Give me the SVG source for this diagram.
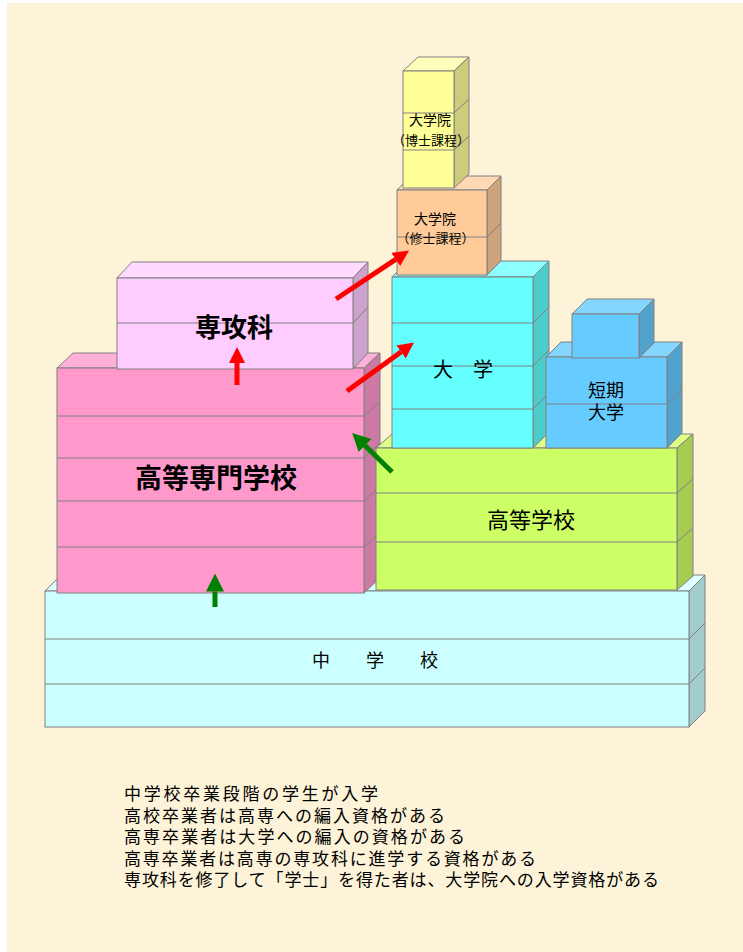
<svg xmlns="http://www.w3.org/2000/svg" width="743" height="952" viewBox="0 0 743 952">
<defs>
<style>
.ed{stroke:#808080;stroke-width:1;stroke-linejoin:miter}
.ln{stroke:#808080;stroke-width:1;fill:none}
.t{font-family:"Noto Sans CJK JP","Noto Sans CJK SC",sans-serif;fill:#000}
.red{stroke:#FF0000;stroke-width:5;fill:none}
.grn{stroke:#008000;stroke-width:5;fill:none}
</style>
<marker id="hr" markerUnits="userSpaceOnUse" markerWidth="17" markerHeight="17" refX="0" refY="8" orient="auto" viewBox="0 0 17 17">
<path d="M0,0 L16,8 L0,16 Z" fill="#FF0000"/>
</marker>
<marker id="hg" markerUnits="userSpaceOnUse" markerWidth="19" markerHeight="19" refX="0" refY="9" orient="auto" viewBox="0 0 19 19">
<path d="M0,0 L18,9 L0,18 Z" fill="#008000"/>
</marker>
</defs>
<rect x="0" y="0" width="743" height="952" fill="#FFFFFF"/>
<rect x="7" y="3" width="736" height="949" fill="#FDF3D8"/>

<g id="chugakko">
<polygon class="ed" points="45,591 61,575 705,575 689,591" fill="#DDFFFF"/>
<polygon class="ed" points="689,591 705,575 705,711 689,727" fill="#A3CCCC"/>
<rect class="ed" x="45" y="591" width="644" height="136" fill="#CCFFFF"/>
<path class="ln" d="M45,639H689M45,684H689M689,639L705,623M689,684L705,668"/>
<text class="t" x="312" y="667" font-size="18" letter-spacing="9">中　学　校</text>
</g>

<g id="kosen">
<polygon class="ed" points="57,368 73,353 380,353 364,368" fill="#FFB0D8"/>
<polygon class="ed" points="364,368 380,353 380,578 364,593" fill="#CC7AA3"/>
<rect class="ed" x="57" y="368" width="307" height="225" fill="#FF99CC"/>
<path class="ln" d="M57,416H364M57,458H364M57,501H364M57,547H364M364,416L380,401M364,458L380,443M364,501L380,486M364,547L380,532"/>
<text class="t" x="216" y="488" font-size="27" font-weight="bold" text-anchor="middle">高等専門学校</text>
</g>

<g id="kotogakko">
<polygon class="ed" points="376,448 392,434 693,434 677,448" fill="#DDFF88"/>
<polygon class="ed" points="677,448 693,434 693,576 677,590" fill="#A6CC52"/>
<rect class="ed" x="376" y="448" width="301" height="142" fill="#CCFF66"/>
<path class="ln" d="M376,493H677M376,542H677M677,493L693,479M677,542L693,528"/>
<text class="t" x="531" y="528" font-size="22" text-anchor="middle">高等学校</text>
</g>

<g id="daigaku">
<polygon class="ed" points="392,277 408,261 549,261 533,277" fill="#8CFFFF"/>
<polygon class="ed" points="533,277 549,261 549,432 533,448" fill="#4DCCCC"/>
<rect class="ed" x="392" y="277" width="141" height="171" fill="#66FFFF"/>
<path class="ln" d="M392,323H533M392,366H533M392,409H533M533,323L549,307M533,366L549,350M533,409L549,393"/>
<text class="t" x="433" y="377" font-size="20">大　学</text>
</g>

<g id="tandai">
<polygon class="ed" points="546,357 561,342 682,342 667,357" fill="#85D6FF"/>
<polygon class="ed" points="667,357 682,342 682,433 667,448" fill="#52A3CC"/>
<rect class="ed" x="546" y="357" width="121" height="91" fill="#66CCFF"/>
<path class="ln" d="M546,404H667M667,404L682,389"/>
<polygon class="ed" points="572,314 587,299 654,299 639,314" fill="#85D6FF"/>
<polygon class="ed" points="639,314 654,299 654,343 639,358" fill="#52A3CC"/>
<rect class="ed" x="572" y="314" width="67" height="44" fill="#66CCFF"/>
<text class="t" x="606" y="396.5" font-size="18" text-anchor="middle">短期</text>
<text class="t" x="606" y="418.5" font-size="18" text-anchor="middle">大学</text>
</g>

<g id="senkoka">
<polygon class="ed" points="117,278 132,262 368,262 353,278" fill="#FFD9FF"/>
<polygon class="ed" points="353,278 368,262 368,353 353,369" fill="#CCA3CC"/>
<rect class="ed" x="117" y="278" width="236" height="91" fill="#FFCCFF"/>
<path class="ln" d="M117,323H353M353,323L368,307"/>
<text class="t" x="234" y="337" font-size="26" font-weight="bold" text-anchor="middle">専攻科</text>
</g>

<g id="shushi">
<polygon class="ed" points="397,190 411,176 501,176 487,190" fill="#FFD9B3"/>
<polygon class="ed" points="487,190 501,176 501,261 487,275" fill="#CCA37A"/>
<rect class="ed" x="397" y="190" width="90" height="85" fill="#FFCC99"/>
<path class="ln" d="M397,237H487M487,237L501,223"/>
<text class="t" x="435" y="224" font-size="14" text-anchor="middle">大学院</text>
<text class="t" x="435.5" y="243" font-size="13" text-anchor="middle">（修士課程）</text>
</g>

<g id="hakushi">
<polygon class="ed" points="403,71 418,57 469,57 454,71" fill="#FFFFBB"/>
<polygon class="ed" points="454,71 469,57 469,174 454,188" fill="#CCCC7A"/>
<rect class="ed" x="403" y="71" width="51" height="117" fill="#FFFF99"/>
<path class="ln" d="M403,113H454M403,150H454M454,113L469,99M454,150L469,136"/>
<text class="t" x="430" y="125" font-size="14" text-anchor="middle">大学院</text>
<text class="t" x="431" y="145" font-size="13" text-anchor="middle">（博士課程）</text>
</g>

<g id="connectors">
<line class="red" x1="336" y1="299" x2="395.7" y2="259.4" marker-end="url(#hr)"/>
<line class="red" x1="347" y1="391" x2="401" y2="351.9" marker-end="url(#hr)"/>
<line class="red" x1="237" y1="385" x2="237" y2="363" marker-end="url(#hr)"/>
<line class="grn" x1="215" y1="607" x2="215" y2="591.5" marker-end="url(#hg)"/>
<line class="grn" x1="392" y1="472" x2="365" y2="445.5" marker-end="url(#hg)"/>
</g>

<g id="notes" class="t" font-size="17">
<text x="124" y="799.5" textLength="254" lengthAdjust="spacing">中学校卒業段階の学生が入学</text>
<text x="124" y="821.5" textLength="321" lengthAdjust="spacing">高校卒業者は高専への編入資格がある</text>
<text x="124" y="843" textLength="341" lengthAdjust="spacing">高専卒業者は大学への編入の資格がある</text>
<text x="124" y="864.5" textLength="412" lengthAdjust="spacing">高専卒業者は高専の専攻科に進学する資格がある</text>
<text x="124" y="886" textLength="535" lengthAdjust="spacing">専攻科を修了して「学士」を得た者は、大学院への入学資格がある</text>
</g>
</svg>
